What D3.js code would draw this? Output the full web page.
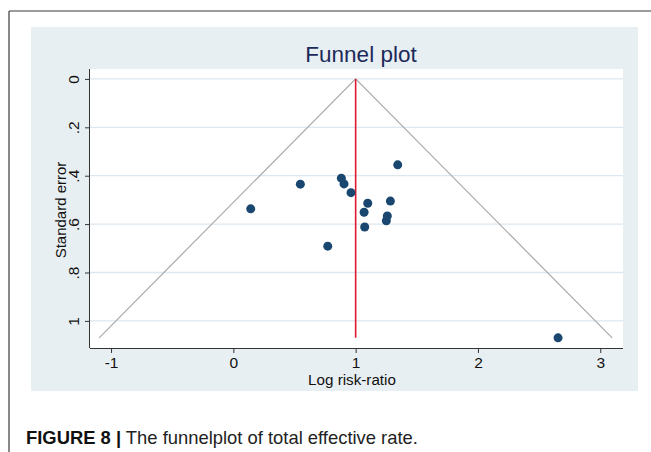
<!DOCTYPE html>
<html>
<head>
<meta charset="utf-8">
<script src="https://cdn.jsdelivr.net/npm/d3@7"></script>
<style>
  html, body { margin: 0; padding: 0; background: #ffffff; }
  svg { display: block; font-family: Arial, "Liberation Sans", Helvetica, sans-serif; }
</style>
</head>
<body>
<svg id="chart" width="651" height="452"></svg>
<script>
// ---- data ----
const logRiskRatio = [1.344, 0.548, 0.883, 0.905, 0.962, 0.142, 1.099, 1.284, 1.069, 1.259, 1.251, 1.074, 0.772, 2.655];
const standardError = [0.355, 0.435, 0.410, 0.434, 0.470, 0.537, 0.514, 0.505, 0.551, 0.566, 0.586, 0.612, 0.691, 1.070];
const pooledEstimate = [1.0];
const xTickValues = [-1, 0, 1, 2, 3];
const yTickValues = [0, 0.2, 0.4, 0.6, 0.8, 1];
const yTickLabels = ["0", ".2", ".4", ".6", ".8", "1"];
const titleText = "Funnel plot";
const xTitle = "Log risk-ratio";
const yTitle = "Standard error";
const captionBold = "FIGURE 8 |";
const captionText = " The funnelplot of total effective rate.";

const FONT = "Arial, 'Liberation Sans', Helvetica, sans-serif";
const svg = d3.select("#chart");

// figure frame (top and left rule)
svg.append("line").attr("x1", 9).attr("x2", 651).attr("y1", 11).attr("y2", 11)
  .attr("stroke", "#3a3a3a").attr("stroke-width", 1.2);
svg.append("line").attr("x1", 9).attr("x2", 9).attr("y1", 11).attr("y2", 452)
  .attr("stroke", "#3a3a3a").attr("stroke-width", 1.2);

// graph region
svg.append("rect").attr("x", 31).attr("y", 27).attr("width", 607).attr("height", 364)
  .attr("fill", "#e8eff2");

const plot = { left: 90, right: 623, top: 69, bottom: 348 };
svg.append("rect").attr("x", plot.left).attr("y", plot.top)
  .attr("width", plot.right - plot.left).attr("height", plot.bottom - plot.top)
  .attr("fill", "#ffffff");

const x = d3.scaleLinear().domain([-1.172, 3.186]).range([plot.left, plot.right]);
const y = d3.scaleLinear().domain([-0.041, 1.112]).range([plot.top, plot.bottom]);

// gridlines
svg.append("g").selectAll("line").data(yTickValues).join("line")
  .attr("x1", plot.left).attr("x2", plot.right)
  .attr("y1", d => y(d)).attr("y2", d => y(d))
  .attr("stroke", "#dce7ef").attr("stroke-width", 1.3);

// pseudo 95% confidence limits
const seMax = d3.max(standardError);
const pooled = pooledEstimate[0];
const funnel = [
  [pooled - 1.96 * seMax, seMax],
  [pooled, 0],
  [pooled + 1.96 * seMax, seMax]
];
svg.append("path")
  .attr("d", d3.line().x(d => x(d[0])).y(d => y(d[1]))(funnel))
  .attr("fill", "none").attr("stroke", "#a9a9a9").attr("stroke-width", 1.2);

// pooled estimate line
svg.append("line")
  .attr("x1", x(pooled)).attr("x2", x(pooled))
  .attr("y1", y(0)).attr("y2", y(seMax))
  .attr("stroke", "#de1a33").attr("stroke-width", 1.6);

// points
svg.append("g").selectAll("circle").data(logRiskRatio.map((v, i) => [v, standardError[i]])).join("circle")
  .attr("cx", d => x(d[0])).attr("cy", d => y(d[1])).attr("r", 4.5)
  .attr("fill", "#1a476f");

// axes
const xAxis = svg.append("g").attr("transform", `translate(0,${plot.bottom})`)
  .call(d3.axisBottom(x).tickValues(xTickValues).tickSize(5).tickSizeOuter(0).tickPadding(4)
    .tickFormat(d => d < 0 ? "-" + Math.abs(d) : String(d)));
xAxis.attr("font-size", null).attr("font-family", null);
xAxis.select(".domain").attr("d", `M${plot.left},0.5H${plot.right}`).attr("stroke", "#333");
xAxis.selectAll(".tick line").attr("stroke", "#333");
xAxis.selectAll(".tick text").attr("dy", null).attr("y", 19.5)
  .style("font-size", "15.5px").style("font-family", FONT).attr("fill", "#111");

const yAxis = svg.append("g").attr("transform", `translate(${plot.left},0)`)
  .call(d3.axisLeft(y).tickValues(yTickValues).tickSize(5).tickSizeOuter(0)
    .tickFormat((d, i) => yTickLabels[i]));
yAxis.attr("font-size", null).attr("font-family", null);
yAxis.select(".domain").attr("d", `M-0.5,${plot.top}V${plot.bottom}`).attr("stroke", "#333");
yAxis.selectAll(".tick line").attr("stroke", "#333");
yAxis.selectAll(".tick text")
  .attr("x", null).attr("dy", null)
  .attr("text-anchor", "middle")
  .attr("transform", "translate(-11,0) rotate(-90)")
  .style("font-size", "15.5px").style("font-family", FONT).attr("fill", "#111");

// titles
svg.append("text").attr("x", 361).attr("y", 62).attr("text-anchor", "middle")
  .style("font-size", "22.5px").attr("fill", "#1c2a5a").text(titleText);
svg.append("text").attr("x", 352).attr("y", 385).attr("text-anchor", "middle")
  .style("font-size", "15.2px").attr("fill", "#111").text(xTitle);
svg.append("text").attr("transform", "translate(65.5,210) rotate(-90)").attr("text-anchor", "middle")
  .style("font-size", "15px").attr("fill", "#111").text(yTitle);

// caption
const cap = svg.append("text").attr("x", 26).attr("y", 443.5).style("font-size", "18.4px").attr("fill", "#222");
cap.append("tspan").attr("font-weight", "bold").attr("fill", "#111").text(captionBold);
cap.append("tspan").text(captionText);
</script>
</body>
</html>
